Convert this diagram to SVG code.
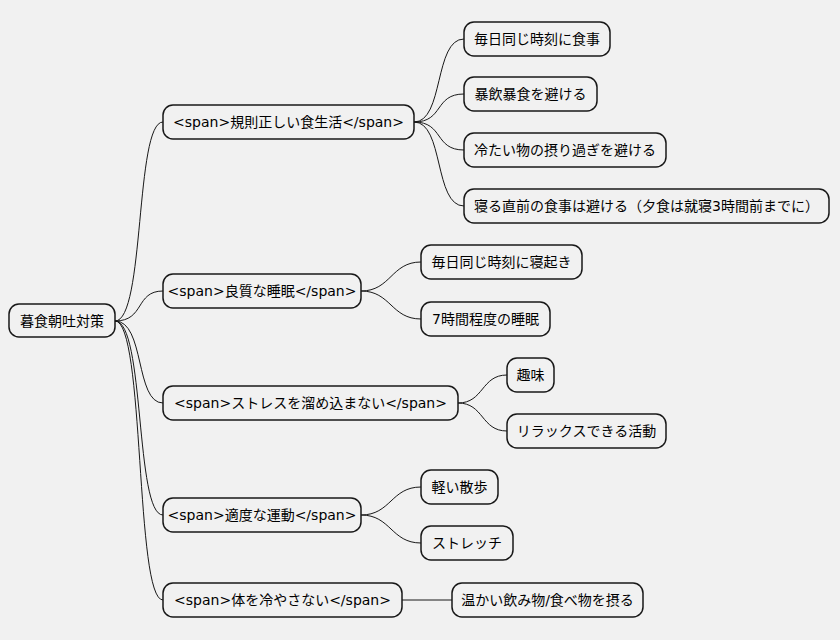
<svg xmlns="http://www.w3.org/2000/svg" width="840" height="640" viewBox="0 0 840 640">
<style>
rect{fill:#f1f1f1;stroke:#181818;stroke-width:1.5}
text{font-family:"DejaVu Sans","Noto Sans CJK JP",sans-serif;font-size:14px;fill:#000;text-anchor:middle;dominant-baseline:central}
#c path{fill:none;stroke:#181818;stroke-width:1}
</style>
<rect width="840" height="640" fill="#fff" style="stroke:none"/>
<g id="c">
<path d="M115 321 C145 321,135 122,163 122"/>
<path d="M115 321 C145 321,135 291,163 291"/>
<path d="M115 321 C145 321,135 403,163 403"/>
<path d="M115 321 C145 321,135 515,163 515"/>
<path d="M115 321 C145 321,135 600,163 600"/>
<path d="M414 122 C444 122,434 39,464 39"/>
<path d="M414 122 C444 122,434 94,464 94"/>
<path d="M414 122 C444 122,434 150,464 150"/>
<path d="M414 122 C444 122,434 206,464 206"/>
<path d="M361 291 C391 291,391 262,421 262"/>
<path d="M361 291 C391 291,391 319,421 319"/>
<path d="M458 403 C484 403,481 375,507 375"/>
<path d="M458 403 C484 403,481 431,507 431"/>
<path d="M361 515 C391 515,391 487,421 487"/>
<path d="M361 515 C391 515,391 543,421 543"/>
<path d="M402 600 L452 600"/>
</g>
<g id="root"><rect x="9" y="304" width="106" height="33" rx="10"/><text x="62" y="321">暮食朝吐対策</text></g>
<g id="n1"><rect x="163" y="105" width="251" height="34" rx="10"/><text x="288.5" y="122">&lt;span&gt;規則正しい食生活&lt;/span&gt;</text></g>
<g id="n2"><rect x="163" y="274" width="198" height="34" rx="10"/><text x="262" y="291">&lt;span&gt;良質な睡眠&lt;/span&gt;</text></g>
<g id="n3"><rect x="163" y="386" width="295" height="34" rx="10"/><text x="310.5" y="403">&lt;span&gt;ストレスを溜め込まない&lt;/span&gt;</text></g>
<g id="n4"><rect x="163" y="498" width="198" height="34" rx="10"/><text x="262" y="515">&lt;span&gt;適度な運動&lt;/span&gt;</text></g>
<g id="n5"><rect x="163" y="583" width="239" height="34" rx="10"/><text x="282.5" y="600">&lt;span&gt;体を冷やさない&lt;/span&gt;</text></g>
<g id="a1"><rect x="464" y="22" width="146" height="34" rx="10"/><text x="537" y="39">毎日同じ時刻に食事</text></g>
<g id="a2"><rect x="464" y="77" width="133" height="34" rx="10"/><text x="530.5" y="94">暴飲暴食を避ける</text></g>
<g id="a3"><rect x="464" y="133" width="202" height="34" rx="10"/><text x="565" y="150">冷たい物の摂り過ぎを避ける</text></g>
<g id="a4"><rect x="464" y="189" width="365" height="34" rx="10"/><text x="646.5" y="206">寝る直前の食事は避ける（夕食は就寝3時間前までに）</text></g>
<g id="b1"><rect x="421" y="245" width="161" height="34" rx="10"/><text x="501.5" y="262">毎日同じ時刻に寝起き</text></g>
<g id="b2"><rect x="421" y="302" width="129" height="34" rx="10"/><text x="485.5" y="319">7時間程度の睡眠</text></g>
<g id="c1"><rect x="507" y="358" width="47" height="34" rx="10"/><text x="530.5" y="375">趣味</text></g>
<g id="c2"><rect x="507" y="414" width="159" height="34" rx="10"/><text x="586.5" y="431">リラックスできる活動</text></g>
<g id="d1"><rect x="421" y="470" width="77" height="34" rx="10"/><text x="459.5" y="487">軽い散歩</text></g>
<g id="d2"><rect x="421" y="526" width="92" height="34" rx="10"/><text x="467" y="543">ストレッチ</text></g>
<g id="e1"><rect x="452" y="583" width="191" height="34" rx="10"/><text x="547.5" y="600">温かい飲み物/食べ物を摂る</text></g>
</svg>
